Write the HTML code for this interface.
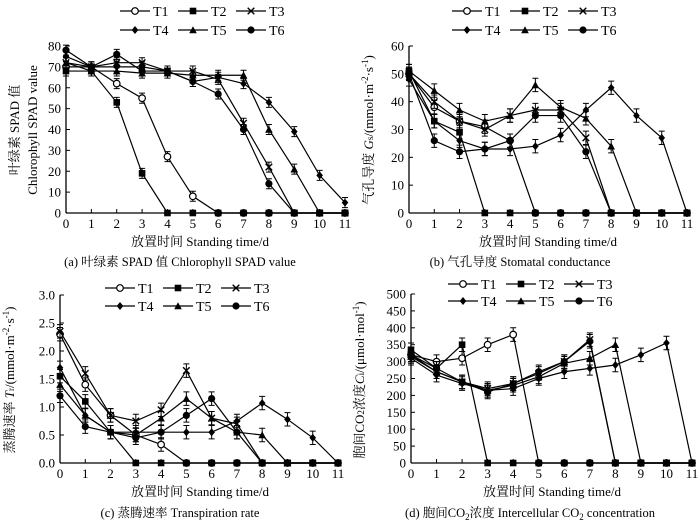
<!DOCTYPE html>
<html><head><meta charset="utf-8"><style>
body{margin:0;background:#fff;}
svg text{font-family:"Liberation Serif","Noto Serif CJK SC",serif;fill:#000;}
</style></head><body>
<svg id="c" width="700" height="523" xmlns="http://www.w3.org/2000/svg"></svg>
<script>
const days=[0,1,2,3,4,5,6,7,8,9,10,11];
const seriesNames=["T1","T2","T3","T4","T5","T6"];
const spadT1=[70,70,62,55,27,8,0,0,0,0,0,0];
const spadT2=[68,68,53,19,0,0,0,0,0,0,0,0];
const spadT3=[72,70,72,72,68,68,64,43,22,0,0,0];
const spadT4=[75,70,70,70,68,63,65,62,53,39,18,5];
const spadT5=[72,68,68,67,67,66,66,66,40,21,0,0];
const spadT6=[78,70,76,68,68,63,57,40,14,0,0,0];
const gsT1=[50,38,33,31,26,0,0,0,0,0,0,0];
const gsT2=[51,33,29,0,0,0,0,0,0,0,0,0];
const gsT3=[50,40,33,30,35,37,37,27,0,0,0,0];
const gsT4=[48,33,26,23,23,24,28,37,45,35,27,0];
const gsT5=[51,44,37,33,35,46,38,34,24,0,0,0];
const gsT6=[50,26,22,23,26,35,35,22,0,0,0,0];
const trT1=[2.3,1.4,0.85,0.5,0.33,0,0,0,0,0,0,0];
const trT2=[1.55,1.1,0.55,0,0,0,0,0,0,0,0,0];
const trT3=[2.35,1.6,0.85,0.75,0.95,1.65,0.8,0.7,0,0,0,0];
const trT4=[1.7,0.85,0.55,0.55,0.55,0.55,0.55,0.75,1.07,0.78,0.45,0];
const trT5=[1.4,0.85,0.55,0.5,0.8,1.15,0.8,0.55,0.5,0,0,0];
const trT6=[1.2,0.65,0.55,0.45,0.55,0.85,1.15,0.55,0,0,0,0];
const ciT1=[320,300,310,350,380,0,0,0,0,0,0,0];
const ciT2=[335,280,350,0,0,0,0,0,0,0,0,0];
const ciT3=[320,270,240,220,235,265,300,365,0,0,0,0];
const ciT4=[310,260,235,215,220,250,270,280,290,320,355,0];
const ciT5=[315,270,240,215,230,255,295,310,350,0,0,0];
const ciT6=[320,280,240,210,235,270,300,360,0,0,0,0];
const spadTicks=[0,10,20,30,40,50,60,70,80];
const gsTicks=[0,10,20,30,40,50,60];
const trTicks=[0,0.5,1.0,1.5,2.0,2.5,3.0];
const ciTicks=[0,50,100,150,200,250,300,350,400,450,500];

const svg=document.getElementById('c');
const NS="http://www.w3.org/2000/svg";
function mk(tag,attrs,parent){const e=document.createElementNS(NS,tag);for(const k in attrs)e.setAttribute(k,attrs[k]);(parent||svg).appendChild(e);return e;}
function marker(g,i,x,y){
  const s=3.3;let m;
  if(i===0)m=mk('circle',{cx:x,cy:y,r:s,fill:'#fff',stroke:'#000','stroke-width':1.2},g);
  else if(i===1)m=mk('rect',{x:x-s,y:y-s,width:2*s,height:2*s,fill:'#000'},g);
  else if(i===2)m=mk('path',{d:`M${x-s} ${y-s}L${x+s} ${y+s}M${x-s} ${y+s}L${x+s} ${y-s}`,stroke:'#000','stroke-width':1.4},g);
  else if(i===3)m=mk('path',{d:`M${x} ${y-s-0.7}L${x+s} ${y}L${x} ${y+s+0.7}L${x-s} ${y}Z`,fill:'#000'},g);
  else if(i===4)m=mk('path',{d:`M${x} ${y-s-0.5}L${x+s+0.5} ${y+s}L${x-s-0.5} ${y+s}Z`,fill:'#000'},g);
  else m=mk('circle',{cx:x,cy:y,r:s+0.3,fill:'#000'},g);
  
  
}
function legend(x0,y1,y2){
  const g=mk('g',{});
  
  
  seriesNames.forEach((n,i)=>{
    const x=x0+(i%3)*58, y=i<3?y1:y2;
    const e=mk('g',{},g);
    
    
    mk('line',{x1:x,y1:y,x2:x+30,y2:y,stroke:'#000','stroke-width':1.2},e);
    marker(e,i,x+15,y);
    const t=mk('text',{x:x+33,y:y+5,'font-size':14},e);t.textContent=n;
  });
}
function panel(opt){
  const {name,x0,x1,y0,y1,ymax,ticks,data,fmt,err}=opt;
  const g=mk('g',{});
  
  
  const X=d=>x0+(x1-x0)*d/11, Y=v=>y0-(y0-y1)*v/ymax;
  mk('line',{x1:x0,y1:y0,x2:x1+2,y2:y0,stroke:'#000','stroke-width':1.3},g);
  mk('line',{x1:x0,y1:y0,x2:x0,y2:y1,stroke:'#000','stroke-width':1.3},g);
  ticks.forEach(t=>{
    mk('line',{x1:x0,y1:Y(t),x2:x0+4,y2:Y(t),stroke:'#000'},g);
    const tx=mk('text',{x:x0-5,y:Y(t)+4.5,'font-size':13,'text-anchor':'end'},g);tx.textContent=fmt(t);
  });
  days.forEach(d=>{
    mk('line',{x1:X(d),y1:y0,x2:X(d),y2:y0-4,stroke:'#000'},g);
    const tx=mk('text',{x:X(d),y:y0+15,'font-size':13,'text-anchor':'middle'},g);tx.textContent=d;
  });
  data.forEach((s,i)=>{
    const sg=mk('g',{},g);
    
    
    mk('polyline',{points:s.map((v,d)=>X(d)+','+Y(v)).join(' '),fill:'none',stroke:'#000','stroke-width':1.2},sg);
    s.forEach((v,d)=>{
      if(v>0){const e=err*ymax;mk('path',{d:`M${X(d)} ${Y(v+e)}V${Y(v-e)}M${X(d)-3} ${Y(v+e)}H${X(d)+3}M${X(d)-3} ${Y(v-e)}H${X(d)+3}`,stroke:'#000','stroke-width':1},sg);}
      marker(sg,i,X(d),Y(v));
    });
  });
}
panel({name:'spad',x0:66,x1:345,y0:213,y1:46,ymax:80,ticks:spadTicks,data:[spadT1,spadT2,spadT3,spadT4,spadT5,spadT6],fmt:t=>t,err:0.03});
panel({name:'gs',x0:409,x1:687,y0:213,y1:46,ymax:60,ticks:gsTicks,data:[gsT1,gsT2,gsT3,gsT4,gsT5,gsT6],fmt:t=>t,err:0.04});
panel({name:'tr',x0:60,x1:338,y0:463,y1:295,ymax:3,ticks:trTicks,data:[trT1,trT2,trT3,trT4,trT5,trT6],fmt:t=>t.toFixed(1),err:0.04});
panel({name:'ci',x0:411,x1:692,y0:463,y1:294,ymax:500,ticks:ciTicks,data:[ciT1,ciT2,ciT3,ciT4,ciT5,ciT6],fmt:t=>t,err:0.04});
legend(120,11,30);legend(452,11,30);legend(105,288,306);legend(448,284,301);
function txt(x,y,s,name,rot,size){const a={x:x,y:y,'font-size':size||13,'text-anchor':'middle'};if(rot)a.transform=`rotate(-90 ${x} ${y})`;const t=mk('text',a);t.innerHTML=s;}
txt(200,246,'放置时间 Standing time/d','x-axis-title-a');
txt(548,246,'放置时间 Standing time/d','x-axis-title-b');
txt(200,496,'放置时间 Standing time/d','x-axis-title-c');
txt(552,496,'放置时间 Standing time/d','x-axis-title-d');
txt(180,266,'(a) 叶绿素 SPAD 值  Chlorophyll SPAD value','caption-a',false,12.5);
txt(520,266,'(b) 气孔导度 Stomatal conductance','caption-b',false,12.5);
txt(180,517,'(c) 蒸腾速率 Transpiration rate','caption-c',false,12.5);
txt(530,517,'(d) 胞间CO<tspan font-size="9" dy="3">2</tspan><tspan dy="-3">浓度 Intercellular CO</tspan><tspan font-size="9" dy="3">2</tspan><tspan dy="-3"> concentration</tspan>','caption-d',false,12.5);
txt(19,130,'叶绿素 SPAD 值','y-axis-title-a-cn',true);
txt(37,130,'Chlorophyll SPAD value','y-axis-title-a-en',true);
txt(373,130,'气孔导度 <tspan font-style="italic">G</tspan><tspan font-size="9">s</tspan>/(mmol·m<tspan font-size="9" dy="-5">-2</tspan><tspan dy="5">·s</tspan><tspan font-size="9" dy="-5">-1</tspan><tspan dy="5">)</tspan>','y-axis-title-b',true);
txt(14,380,'蒸腾速率 <tspan font-style="italic">T</tspan><tspan font-size="9">r</tspan>/(mmol·m<tspan font-size="9" dy="-5">-2</tspan><tspan dy="5">·s</tspan><tspan font-size="9" dy="-5">-1</tspan><tspan dy="5">)</tspan>','y-axis-title-c',true);
txt(364,380,'胞间CO<tspan font-size="9">2</tspan>浓度<tspan font-style="italic">C</tspan><tspan font-size="9">i</tspan>/(μmol·mol<tspan font-size="9" dy="-5">-1</tspan><tspan dy="5">)</tspan>','y-axis-title-d',true);
</script>
</body></html>
